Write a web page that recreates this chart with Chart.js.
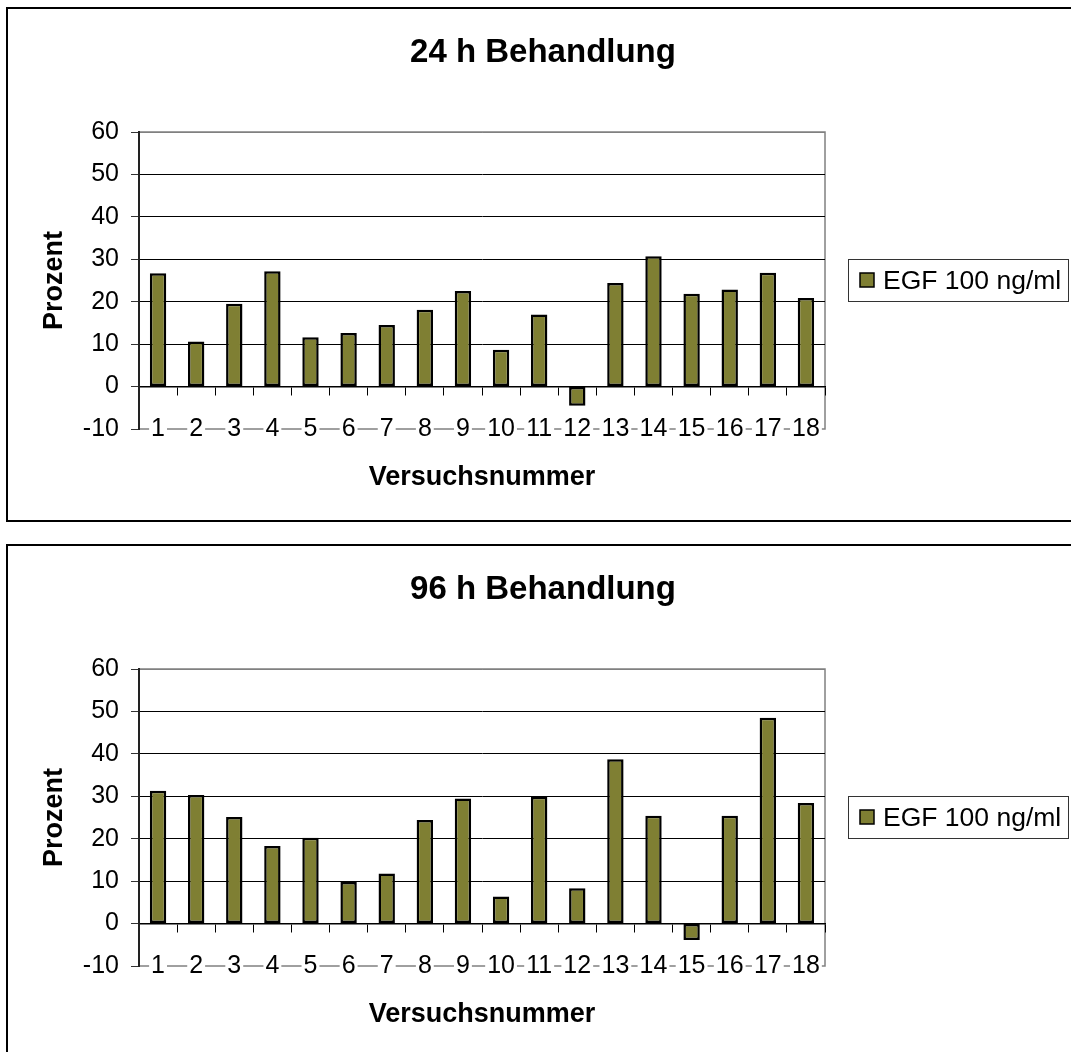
<!DOCTYPE html>
<html lang="de">
<head>
<meta charset="utf-8">
<title>EGF 100 ng/ml – 24 h / 96 h Behandlung</title>
<script src="https://cdn.jsdelivr.net/npm/chart.js@4.4.1/dist/chart.umd.min.js"></script>
<style>
  body { margin: 0; background: #fff; overflow: hidden; width: 1071px; height: 1052px; position: relative; }
  .rahmen { position: absolute; left: 6px; width: 1100px; border: 2px solid #000; box-sizing: border-box; }
  #rahmen24 { top: 7px; height: 515px; }
  #rahmen96 { top: 544px; height: 600px; }
  canvas { position: absolute; left: 0; }
  #chart24 { top: 0; }
  #chart96 { top: 537px; }
</style>
</head>
<body>
<div class="rahmen" id="rahmen24"></div>
<div class="rahmen" id="rahmen96"></div>
<canvas id="chart24" width="1071" height="530"></canvas>
<canvas id="chart96" width="1071" height="515"></canvas>
<script>
"use strict";

// Versuchsnummern und Messwerte (Prozent)
const versuche = ["1", "2", "3", "4", "5", "6", "7", "8", "9", "10", "11", "12", "13", "14", "15", "16", "17", "18"];
const werte24h = [26.7, 10.6, 19.5, 27.2, 11.6, 12.6, 14.5, 18.1, 22.5, 8.7, 17.0, -4.5, 24.4, 30.7, 21.9, 22.9, 26.8, 20.9];
const werte96h = [31.3, 30.3, 25.1, 18.3, 20.2, 9.8, 11.8, 24.4, 29.5, 6.4, 29.9, 8.3, 38.7, 25.4, -3.9, 25.4, 48.5, 28.4];
const prozentTicks = [-10, 0, 10, 20, 30, 40, 50, 60];
const serienName = "EGF 100 ng/ml";

const SCHRIFT = "'Liberation Sans', Arial, sans-serif";
const OLIV = "#7f7f33";

// Rahmen der Zeichenfläche, Titel, Achsentitel und Legende
const beschriftungPlugin = {
  id: "beschriftung",
  beforeDraw(chart) {
    const ctx = chart.ctx;
    const a = chart.chartArea;
    ctx.save();
    ctx.strokeStyle = "#808080";
    ctx.lineWidth = 1.5;
    ctx.strokeRect(a.left, a.top, a.right - a.left, a.bottom - a.top);
    ctx.restore();
  },
  afterDraw(chart, args, opts) {
    const ctx = chart.ctx;
    const a = chart.chartArea;
    ctx.save();
    ctx.fillStyle = "#000";
    ctx.textAlign = "center";
    ctx.textBaseline = "alphabetic";
    ctx.font = "bold 33px " + SCHRIFT;
    ctx.fillText(opts.titel, 543, 62);
    ctx.font = "bold 27px " + SCHRIFT;
    ctx.fillText("Versuchsnummer", (a.left + a.right) / 2, 485);
    ctx.save();
    ctx.translate(62, (a.top + a.bottom) / 2);
    ctx.rotate(-Math.PI / 2);
    ctx.fillText("Prozent", 0, 0);
    ctx.restore();

    // Legende
    const ds = chart.data.datasets[0];
    ctx.strokeStyle = "#333";
    ctx.lineWidth = 1;
    ctx.strokeRect(848.5, 259.5, 220, 42);
    ctx.fillStyle = ds.backgroundColor;
    ctx.fillRect(860, 273, 14, 14);
    ctx.strokeStyle = "#000";
    ctx.lineWidth = 1.5;
    ctx.strokeRect(860, 273, 14, 14);
    ctx.fillStyle = "#000";
    ctx.textAlign = "left";
    ctx.font = "26.5px " + SCHRIFT;
    ctx.fillText(ds.label, 883, 289);
    ctx.restore();
  },
};

function BalkenDiagramm(canvasId, titel, werte) {
  const context = document.getElementById(canvasId).getContext("2d");
  const hoehe = context.canvas.height;
  new Chart(context, {
    type: "bar",
    data: {
      labels: versuche,
      datasets: [
        {
          label: serienName,
          data: werte,
          backgroundColor: OLIV,
          borderColor: "#000",
          borderWidth: 2.5,
          borderSkipped: false,
          barPercentage: 0.43,
          categoryPercentage: 1,
        },
      ],
    },
    options: {
      responsive: false,
      animation: false,
      events: [],
      layout: {
        padding: { top: 132, left: 0, right: 246, bottom: hoehe - 429 - 40 },
      },
      plugins: {
        legend: { display: false },
        tooltip: { enabled: false },
        beschriftung: { titel: titel },
      },
      scales: {
        // Beschriftung unten, mittig auf der unteren Rahmenlinie
        x: {
          type: "category",
          offset: true,
          grid: { display: false },
          border: { display: false },
          afterFit: function (scale) {
            scale.height = 40;
          },
          ticks: {
            autoSkip: false,
            maxRotation: 0,
            mirror: true,
            padding: -15,
            color: "#000",
            font: { size: 25, family: SCHRIFT },
            showLabelBackdrop: true,
            backdropColor: "#fff",
            backdropPadding: { top: 0, bottom: 0, left: 2, right: 2 },
          },
        },
        // Kategorienachse auf der Nulllinie mit Teilstrichen
        x2: {
          type: "category",
          position: { y: 0 },
          offset: true,
          grid: {
            display: true,
            offset: true,
            drawOnChartArea: false,
            drawTicks: true,
            tickLength: 8,
            color: "#000",
          },
          border: { display: true, color: "#000", width: 1.5 },
          ticks: { display: false },
        },
        y: {
          min: prozentTicks[0],
          max: prozentTicks[prozentTicks.length - 1],
          afterFit: function (scale) {
            scale.width = 139;
          },
          afterBuildTicks: function (scale) {
            scale.ticks = prozentTicks.map(function (v) {
              return { value: v };
            });
          },
          grid: {
            tickLength: 8,
            tickColor: "#333",
            color: function (c) {
              const v = c.tick ? c.tick.value : null;
              if (v === prozentTicks[0]) return "rgba(0,0,0,0)";
              if (v === prozentTicks[prozentTicks.length - 1]) return "#808080";
              return "#000";
            },
          },
          border: { display: true, color: "#222", width: 2 },
          ticks: {
            padding: 12,
            color: "#000",
            font: { size: 25, family: SCHRIFT },
          },
        },
      },
    },
    plugins: [beschriftungPlugin],
  });
}

BalkenDiagramm("chart24", "24 h Behandlung", werte24h);
BalkenDiagramm("chart96", "96 h Behandlung", werte96h);
</script>
</body>
</html>
